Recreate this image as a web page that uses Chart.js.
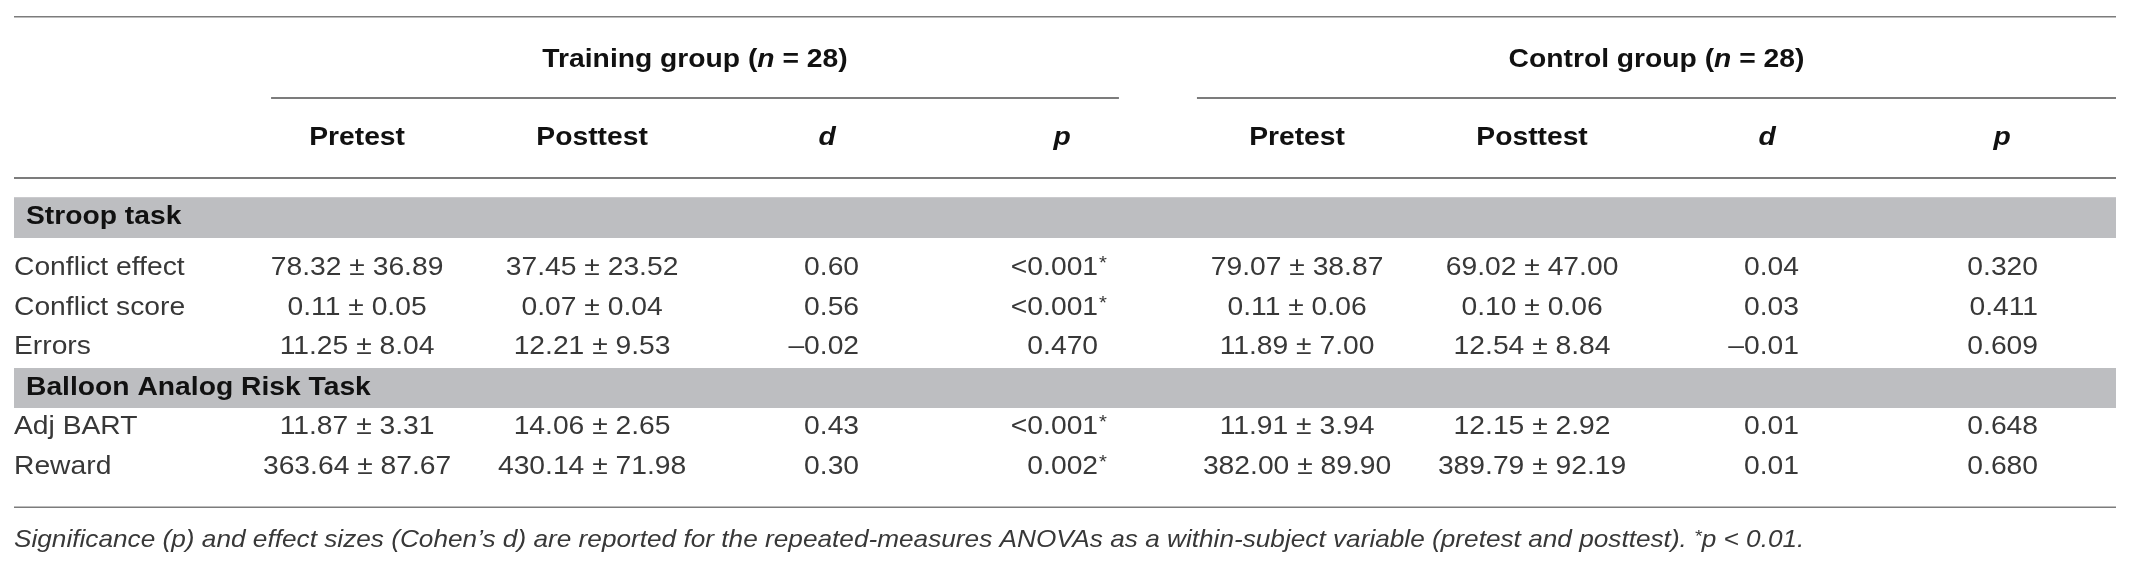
<!DOCTYPE html>
<html>
<head>
<meta charset="utf-8">
<script src="https://cdn.jsdelivr.net/npm/chart.js@4.4.1/dist/chart.umd.min.js"></script>
<style>
  html, body { margin: 0; padding: 0; background: #fff; }
  #wrap { width: 2136px; height: 570px; }
</style>
</head>
<body>
<div id="wrap"><canvas id="table"></canvas></div>
<script>
// ---- table content ----
const groups = ['Training group', 'Control group'];
const groupN = [28, 28];
const columns = ['Pretest', 'Posttest', 'd', 'p'];
const sections = ['Stroop task', 'Balloon Analog Risk Task'];
const measures = ['Conflict effect', 'Conflict score', 'Errors', 'Adj BART', 'Reward'];

const trainPreMean  = [78.32, 0.11, 11.25, 11.87, 363.64];
const trainPreSd    = [36.89, 0.05, 8.04, 3.31, 87.67];
const trainPostMean = [37.45, 0.07, 12.21, 14.06, 430.14];
const trainPostSd   = [23.52, 0.04, 9.53, 2.65, 71.98];
const trainD        = [0.60, 0.56, -0.02, 0.43, 0.30];
const trainP        = ['<0.001', '<0.001', '0.470', '<0.001', '0.002'];
const trainSig      = [true, true, false, true, true];

const ctrlPreMean   = [79.07, 0.11, 11.89, 11.91, 382.00];
const ctrlPreSd     = [38.87, 0.06, 7.00, 3.94, 89.90];
const ctrlPostMean  = [69.02, 0.10, 12.54, 12.15, 389.79];
const ctrlPostSd    = [47.00, 0.06, 8.84, 2.92, 92.19];
const ctrlD         = [0.04, 0.03, -0.01, 0.01, 0.01];
const ctrlP         = ['0.320', '0.411', '0.609', '0.648', '0.680'];
const ctrlSig       = [false, false, false, false, false];

const noteText = 'Significance (p) and effect sizes (Cohen\u2019s d) are reported for the repeated-measures ANOVAs as a within-subject variable (pretest and posttest). ';
const noteTail = 'p < 0.01.';

// ---- layout, in scale units (x: one unit per column, y: one unit per 40px) ----
const X_MIN = -0.46, X_MAX = 8.485, Y_MAX = 14.25;
const groupFirstCol = [1, 5];
const groupRuleX = [[0.634, 4.242], [4.574, X_MAX]];
const rowY = { topRule: 0.42, group: 1.5, groupRule: 2.45, head: 3.45, headRule: 4.45, footRule: 12.68, note: 13.52 };
const bandY = [[4.93, 5.95], [9.2, 10.2]];
const sectionRows = [[0, 1, 2], [3, 4]];
const measureY = [6.7, 7.7, 8.68, 10.68, 11.67];

const SX = 1.13; // reference type is set slightly wide
const FONT = '"Liberation Sans", Arial, sans-serif';
const TEXT = '#383838', HEAD = '#111', RULE = '#7c7c7c', BAND = '#bdbec1';

const fmt = (m, s) => m.toFixed(2) + ' \u00b1 ' + s.toFixed(2);
const fmtD = v => (v < 0 ? '\u2013' : '') + Math.abs(v).toFixed(2);

function textW(ctx, t, font) {
  ctx.font = font;
  return ctx.measureText(t).width * SX;
}

function drawText(ctx, t, x, y, align, font, color) {
  ctx.save();
  ctx.font = font;
  ctx.fillStyle = color;
  ctx.textAlign = align;
  ctx.textBaseline = 'middle';
  ctx.translate(x, y);
  ctx.scale(SX, 1);
  ctx.fillText(t, 0, 0);
  ctx.restore();
}

// draw a list of [text, font] parts one after another, starting at x
function drawParts(ctx, parts, x, y, color) {
  parts.forEach(([t, f, dy]) => {
    drawText(ctx, t, x, y + (dy || 0), 'left', f, color);
    x += textW(ctx, t, f);
  });
}

function hline(ctx, x1, x2, y, w) {
  ctx.save();
  ctx.strokeStyle = RULE;
  ctx.lineWidth = w;
  ctx.beginPath();
  ctx.moveTo(x1, y);
  ctx.lineTo(x2, y);
  ctx.stroke();
  ctx.restore();
}

const tablePlugin = {
  id: 'tableCells',
  afterDraw(chart) {
    const { ctx, chartArea, scales: { x, y } } = chart;
    const px = v => x.getPixelForValue(v);
    const py = v => y.getPixelForValue(v);
    const L = chartArea.left, R = chartArea.right;

    const bold = 'bold 25px ' + FONT;
    const boldIt = 'italic bold 25px ' + FONT;
    const reg = '25px ' + FONT;
    const it = 'italic 23.2px ' + FONT;

    // rules
    hline(ctx, L, R, py(rowY.topRule), 1.5);
    groupRuleX.forEach(([a, b]) => hline(ctx, px(a), px(b), py(rowY.groupRule), 2));
    hline(ctx, L, R, py(rowY.headRule), 1.8);
    hline(ctx, L, R, py(rowY.footRule), 1.5);

    // group headers
    groups.forEach((g, i) => {
      const parts = [[g + ' (', bold], ['n', boldIt], [' = ' + groupN[i] + ')', bold]];
      const w = parts.reduce((s, [t, f]) => s + textW(ctx, t, f), 0);
      const cx = (px(groupRuleX[i][0]) + px(groupRuleX[i][1])) / 2;
      drawParts(ctx, parts, cx - w / 2, py(rowY.group), HEAD);
    });

    // column headers
    groupFirstCol.forEach(c0 => {
      columns.forEach((c, j) => {
        drawText(ctx, c, px(c0 + j), py(rowY.head), 'center', j < 2 ? bold : boldIt, HEAD);
      });
    });

    // section bands
    sections.forEach((s, i) => {
      ctx.fillStyle = BAND;
      ctx.fillRect(L, py(bandY[i][0]), R - L, py(bandY[i][1]) - py(bandY[i][0]));
      drawText(ctx, s, L + 12, py((bandY[i][0] + bandY[i][1]) / 2), 'left', bold, HEAD);
    });

    // body
    const groupsData = [
      [trainPreMean, trainPreSd, trainPostMean, trainPostSd, trainD, trainP, trainSig],
      [ctrlPreMean, ctrlPreSd, ctrlPostMean, ctrlPostSd, ctrlD, ctrlP, ctrlSig]
    ];
    sectionRows.flat().forEach(r => {
      const yy = py(measureY[r]);
      drawText(ctx, measures[r], L, yy, 'left', reg, TEXT);
      groupsData.forEach(([pm, ps, qm, qs, d, p, sig], g) => {
        const c0 = groupFirstCol[g];
        drawText(ctx, fmt(pm[r], ps[r]), px(c0), yy, 'center', reg, TEXT);
        drawText(ctx, fmt(qm[r], qs[r]), px(c0 + 1), yy, 'center', reg, TEXT);
        drawText(ctx, fmtD(d[r]), px(c0 + 2) + 32, yy, 'right', reg, TEXT);
        const pr = px(c0 + 3) + 36;
        drawText(ctx, p[r], pr, yy, 'right', reg, TEXT);
        if (sig[r]) drawText(ctx, '*', pr + 1, yy - 4, 'left', '18px ' + FONT, TEXT);
      });
    });

    // footnote
    drawParts(ctx, [[noteText, it], ['*', 'italic 17px ' + FONT, -4], [noteTail, it]], L, py(rowY.note), TEXT);
  }
};

new Chart(document.getElementById('table'), {
  type: 'scatter',
  data: { datasets: [] },
  options: {
    responsive: true,
    maintainAspectRatio: false,
    animation: false,
    layout: { padding: { left: 14, right: 20, top: 0, bottom: 0 } },
    plugins: { legend: { display: false }, tooltip: { enabled: false } },
    scales: {
      x: { type: 'linear', min: X_MIN, max: X_MAX, display: false },
      y: { type: 'linear', min: 0, max: Y_MAX, reverse: true, display: false }
    }
  },
  plugins: [tablePlugin]
});
</script>
</body>
</html>
